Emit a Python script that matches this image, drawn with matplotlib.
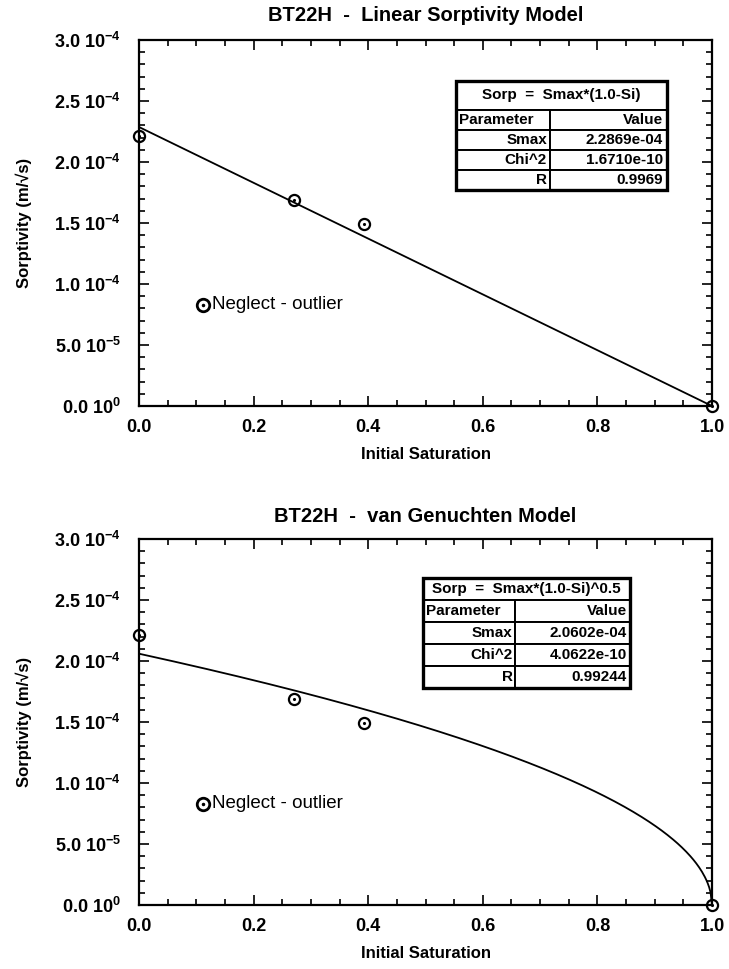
import numpy as np
import matplotlib
matplotlib.use('Agg')
import matplotlib.pyplot as plt
from matplotlib.ticker import MultipleLocator

plt.rcParams['font.family'] = ['Liberation Sans', 'DejaVu Sans']
plt.rcParams['mathtext.fontset'] = 'custom'
plt.rcParams['mathtext.rm'] = 'Liberation Sans:bold'
plt.rcParams['mathtext.default'] = 'rm'

# measured sorptivity vs initial saturation
sat = [0.0, 0.2705, 0.393, 1.0]
sorp = [2.21e-4, 1.69e-4, 1.49e-4, 0.0]

# "Neglect - outlier" key marker position
key_x = [0.112]
key_y = [0.83e-4]

yticks = [0.0, 5e-5, 1e-4, 1.5e-4, 2e-4, 2.5e-4, 3e-4]
ylabels = ['0.0 10$^{0}$', '5.0 10$^{-5}$', '1.0 10$^{-4}$', '1.5 10$^{-4}$',
           '2.0 10$^{-4}$', '2.5 10$^{-4}$', '3.0 10$^{-4}$']
xticks = [0.0, 0.2, 0.4, 0.6, 0.8, 1.0]
xlabels = ['0.0', '0.2', '0.4', '0.6', '0.8', '1.0']

# fit results (from the tables)
smax_lin = 2.2869e-04
smax_vg = 2.0602e-04
tab_lin = [['Parameter', 'Value'], ['Smax', '2.2869e-04'],
           ['Chi^2', '1.6710e-10'], ['R', '0.9969']]
tab_vg = [['Parameter', 'Value'], ['Smax', '2.0602e-04'],
          ['Chi^2', '4.0622e-10'], ['R', '0.99244']]


def style_axes(ax):
    ax.set_xlim(0, 1)
    ax.set_ylim(0, 3e-4)
    ax.set_xticks(xticks)
    ax.set_xticklabels(xlabels, fontweight='bold')
    ax.set_yticks(yticks)
    ax.set_yticklabels(ylabels, fontweight='bold')
    ax.xaxis.set_minor_locator(MultipleLocator(0.05))
    ax.yaxis.set_minor_locator(MultipleLocator(1e-5))
    ax.tick_params(which='both', direction='in', top=True, right=True,
                   labelsize=13, width=1.2)
    ax.tick_params(which='major', length=7)
    ax.tick_params(axis='x', which='major', pad=9)
    ax.tick_params(axis='y', which='major', pad=13)
    ax.tick_params(which='minor', length=4)
    for s in ax.spines.values():
        s.set_linewidth(1.6)
    ax.set_xlabel('Initial Saturation', fontsize=12, fontweight='bold', labelpad=8)
    ax.set_ylabel('Sorptivity (m/\u221as)', fontsize=12, fontweight='bold', labelpad=16)


def draw_points(ax):
    ax.plot(sat, sorp, 'o', mfc='none', mec='black', ms=8, mew=1.6, clip_on=False, zorder=5)
    ax.plot(sat, sorp, '.', color='black', ms=2.5, clip_on=False, zorder=6)
    ax.plot(key_x, key_y, 'o', mfc='none', mec='black', ms=9, mew=2, zorder=5)
    ax.plot(key_x, key_y, '.', color='black', ms=3, zorder=6)
    ax.text(key_x[0] + 0.016, key_y[0], 'Neglect - outlier', fontsize=13.5,
            va='center', ha='left')


def draw_table(ax, title, rows, left, right, top, head_h, row_h):
    w = right - left
    t1 = ax.table(cellText=[[title]], cellLoc='center',
                  bbox=[left, top - head_h, w, head_h])
    bottom = top - head_h - row_h * len(rows)
    t2 = ax.table(cellText=rows, cellLoc='right',
                  bbox=[left, bottom, w, row_h * len(rows)])
    for t in (t1, t2):
        t.auto_set_font_size(False)
        t.set_fontsize(11)
        for cell in t.get_celld().values():
            cell.set_linewidth(1.4)
            cell.get_text().set_fontweight('bold')
            cell.PAD = 0.03
    for (r, c), cell in t2.get_celld().items():
        cell.set_width(w * (0.445 if c == 0 else 0.555))
        if r == 0 and c == 0:
            cell.get_text().set_ha('left')
            cell._loc = 'left'
    ax.add_patch(plt.Rectangle((left, bottom), w, top - bottom, transform=ax.transAxes,
                               fill=False, lw=2.4, ec='black', zorder=10))


fig = plt.figure(figsize=(7.29, 9.69), dpi=100)
ax1 = fig.add_axes([0.1907, 0.581, 0.786, 0.3777])
ax2 = fig.add_axes([0.1907, 0.066, 0.786, 0.3777])

# linear model
xl = np.array([0.0, 1.0])
ax1.plot(xl, smax_lin * (1.0 - xl), color='black', lw=1.3)
draw_points(ax1)
style_axes(ax1)
ax1.set_title('BT22H  -  Linear Sorptivity Model', fontsize=14.5, fontweight='bold', pad=14)
draw_table(ax1, 'Sorp  =  Smax*(1.0-Si)', tab_lin, 0.553, 0.921, 0.888, 0.079, 0.055)

# van Genuchten model
xv = np.linspace(0.0, 1.0, 400)
ax2.plot(xv, smax_vg * np.sqrt(1.0 - xv), color='black', lw=1.3)
draw_points(ax2)
style_axes(ax2)
ax2.set_title('BT22H  -  van Genuchten Model', fontsize=14.5, fontweight='bold', pad=12)
draw_table(ax2, 'Sorp  =  Smax*(1.0-Si)^0.5', tab_vg, 0.496, 0.857, 0.893, 0.060, 0.060)

fig.savefig('out.png', dpi=100)
